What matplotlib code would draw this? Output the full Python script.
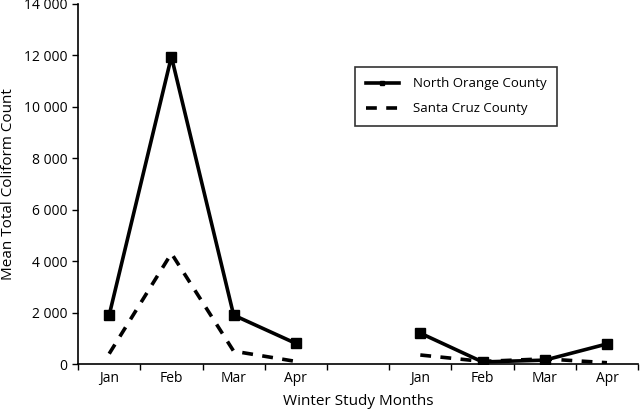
import numpy as np
import matplotlib
matplotlib.use("Agg")
import matplotlib.pyplot as plt

plt.rcParams['font.family'] = ['Open Sans', 'DejaVu Sans']

months = ["Jan", "Feb", "Mar", "Apr", "", "Jan", "Feb", "Mar", "Apr"]
north_orange = [1900, 11950, 1900, 800, np.nan, 1200, 80, 150, 780]
santa_cruz = [400, 4300, 500, 100, np.nan, 350, 100, 200, 50]
yticks = [0, 2000, 4000, 6000, 8000, 10000, 12000, 14000]
ytick_labels = ["0", "2 000", "4 000", "6 000", "8 000", "10 000", "12 000", "14 000"]

fig = plt.figure(figsize=(6.4, 4.12), dpi=100)
ax = fig.add_axes([0.122, 0.1165, 0.875, 0.874])

x = np.arange(len(months))
ax.plot(x, north_orange, color="black", lw=2.6, marker="s", markersize=7,
        label="North Orange County")
ax.plot(x, santa_cruz, color="black", lw=2.6, linestyle=(0, (3, 2.6)),
        label="Santa Cruz County")

ax.set_xlim(-0.5, len(months) - 0.5)
ax.set_ylim(0, 14000)
ax.set_xticks(x)
ax.set_xticklabels(months, fontsize=10)
ax.set_xticks(np.arange(-0.5, len(months)), minor=True)
ax.tick_params(axis="x", which="major", length=0, pad=5)
ax.tick_params(axis="x", which="minor", length=4, width=1)
ax.set_yticks(yticks)
ax.set_yticklabels(ytick_labels, fontsize=10)
ax.tick_params(axis="y", length=4, width=1)

for s in ["top", "right"]:
    ax.spines[s].set_visible(False)
for s in ["left", "bottom"]:
    ax.spines[s].set_linewidth(1.2)

ax.set_ylabel("Mean Total Coliform Count", fontsize=11, labelpad=6)
ax.set_xlabel("Winter Study Months", fontsize=11, labelpad=6)

leg = ax.legend(loc="upper left", bbox_to_anchor=(0.4946, 0.825), frameon=True,
                fancybox=False, edgecolor="black", fontsize=9.5, markerscale=0.5,
                handlelength=2.5, borderpad=0.8, labelspacing=0.9, handletextpad=1.1,
                borderaxespad=0)
leg.get_frame().set_linewidth(1.2)

fig.savefig("out.png", dpi=100)
